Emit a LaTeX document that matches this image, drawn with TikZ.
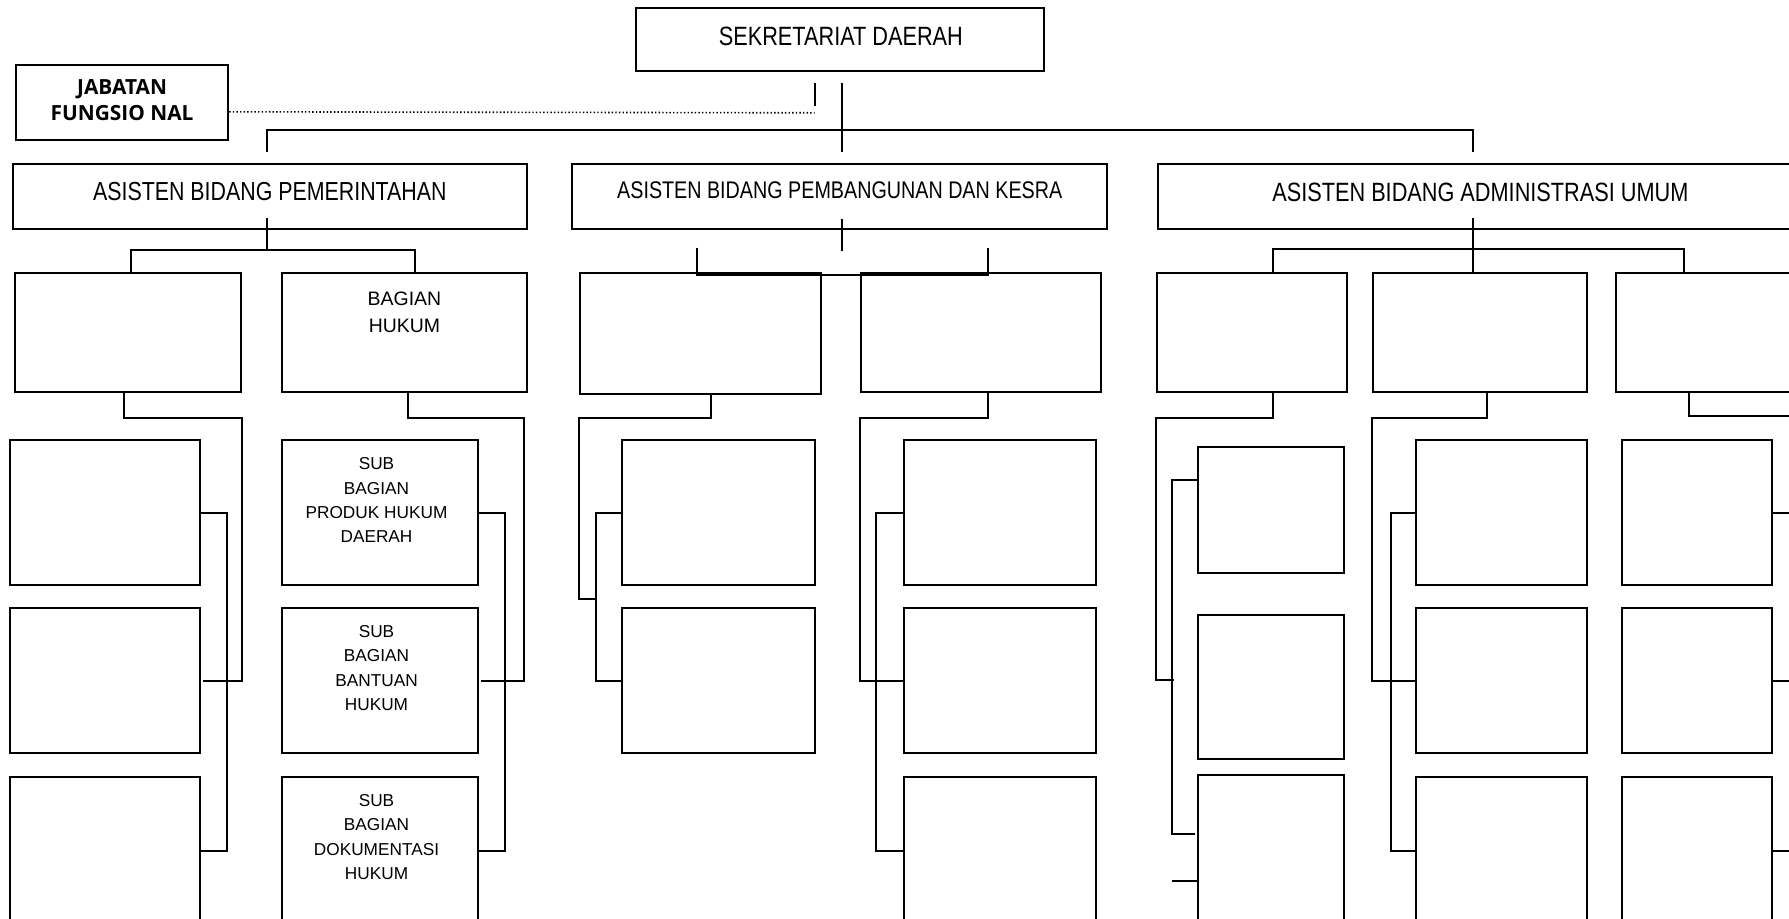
\documentclass[tikz,border=0pt]{standalone}
\usepackage{fontspec}
\setmainfont{Liberation Sans}
\newfontfamily\sempit{Liberation Sans}[FakeStretch=0.82]
\newfontfamily\jabfont{Open Sans}
\usetikzlibrary{fit,calc}

\begin{document}
\begin{tikzpicture}[yscale = -1, x = 0.1mm, y = 0.1mm, line width = 0.5pt,
	kotak/.style = {draw, rectangle, inner sep = 0pt},
	judul/.style = {inner sep = 0pt, anchor = north, font = \sempit\fontsize{6.6}{8}\selectfont},
	isi/.style = {align = center, inner sep = 0pt, anchor = north, font = \fontsize{4.3}{6.1}\selectfont}]
	\useasboundingbox (0, 0) rectangle (1568, 805);
	\clip (0, 0) rectangle (1568, 805);

	% Sekretariat dan jabatan fungsional
	\node (sek) [kotak, fit = {(557, 7) (915, 62)}] {};
	\node (sekT) [judul] at ($(sek.north) + (1, 16.5)$) {SEKRETARIAT DAERAH};
	\node (jab) [kotak, fit = {(14, 57) (200, 123)}] {};
	\node (jabT) [isi, font = \jabfont\bfseries\fontsize{5.2}{6.5}\selectfont] at ($(jab.north) + (0, 12.5)$) {JABATAN\\FUNGSIO NAL};

	% Asisten
	\node (asPem) [kotak, fit = {(11, 144) (462, 201)}] {};
	\node (asPemb) [kotak, fit = {(501, 144) (970, 201)}] {};
	\node (asAdm) [kotak, fit = {(1015, 144) (1580, 201)}] {};
	\node (asPemT) [judul, font = \sempit\fontsize{6.5}{8}\selectfont] at ($(asPem.north) + (0, 16)$) {ASISTEN BIDANG PEMERINTAHAN};
	\node (asPembT) [judul, font = \sempit\fontsize{6}{7}\selectfont] at ($(asPemb.north) + (0.5, 15.5)$) {ASISTEN BIDANG PEMBANGUNAN DAN KESRA};
	\node (asAdmT) [judul] at ($(asAdm.north) + (0, 16)$) {ASISTEN BIDANG ADMINISTRASI UMUM};

	% Bagian
	\node (pem1) [kotak, fit = {(13, 239) (211, 344)}] {};
	\node (hukum) [kotak, fit = {(247, 239) (462, 344)}] {};
	\node (bang1) [kotak, fit = {(508, 239) (720, 345)}] {};
	\node (bang2) [kotak, fit = {(755, 239) (965, 344)}] {};
	\node (adm1) [kotak, fit = {(1014, 239) (1181, 344)}] {};
	\node (adm2) [kotak, fit = {(1203, 239) (1391, 344)}] {};
	\node (adm3) [kotak, fit = {(1416, 239) (1604, 344)}] {};
	\node (hukumT) [isi, font = \fontsize{4.85}{6.8}\selectfont] at ($(hukum.north) + (0, 17)$) {BAGIAN\\HUKUM};

	% Sub bagian
	\foreach \kol/\xa/\xb in {pem1/9/175, hukum/247/419, bang2/792/961, adm2/1241/1391, adm3/1422/1553} {
		\foreach \i/\ya/\yb in {1/386/513, 2/533/660, 3/681/810} {
			\node (\kol-\i) [kotak, fit = {(\xa, \ya) (\xb, \yb)}] {};
		}
	}
	\foreach \i/\ya/\yb in {1/386/513, 2/533/660} {
		\node (bang1-\i) [kotak, fit = {(545, \ya) (714, \yb)}] {};
	}
	\foreach \i/\ya/\yb in {1/392/502, 2/539/665, 3/679/810} {
		\node (adm1-\i) [kotak, fit = {(1050, \ya) (1178, \yb)}] {};
	}
	\node (hukumT1) [isi] at ($(hukum-1.north) + (-3, 15)$) {SUB\\BAGIAN\\PRODUK HUKUM\\DAERAH};
	\node (hukumT2) [isi] at ($(hukum-2.north) + (-3, 15)$) {SUB\\BAGIAN\\BANTUAN\\HUKUM};
	\node (hukumT3) [isi] at ($(hukum-3.north) + (-3, 15)$) {SUB\\BAGIAN\\DOKUMENTASI\\HUKUM};

	% Garis penghubung atas
	\draw ($(sek.south) + (2, 10)$) -- ($(asPemb.north) + (2.5, -10)$);
	\draw ($(sek.south) + (-22, 10)$) -- ++(0, 20);
	\draw [line width = 0.4pt, dash pattern = {on 0.35pt off 0.55pt}] ($(jab.east) + (0, 8)$) -- ($(sek.south) + (-22, 36)$);
	\draw ($(asPem.north) + (-2.5, -10)$) |- ($(sek.south) + (2, 51)$) -| ($(asAdm.north) + (-6.5, -10)$);

	% Garis asisten ke bagian
	\draw ($(asPem.south) + (-2.5, -11)$) -- ++(0, 28);
	\draw ($(pem1.north) + (3, 0)$) |- ($(asPem.south) + (-2.5, 17)$) -| ($(hukum.north) + (9.5, 0)$);
	\draw ($(asPemb.south) + (2.5, -10)$) -- ++(0, 28);
	\draw ($(bang1.north) + (-3, -21)$) |- ($(bang2.north) + (6, 3)$) -- ++(0, -24);
	\draw ($(asAdm.south) + (-6.5, -11)$) -- ++(0, 49);
	\draw ($(adm1.north) + (18.5, 0)$) |- ($(adm3.north) + (-34, -20)$) -- ++(0, 20);

	% Garis bagian ke sub bagian
	\draw ($(pem1.south) + (-3, 0)$) |- ($(pem1.east) + (0, 74.5)$) |- ($(pem1-2.east) + (2, 0)$);
	\draw (pem1-1.east) -| ($(pem1-3.east) + (23, 0)$) -- (pem1-3.east);
	\draw ($(hukum.south) + (3.5, 0)$) |- ($(hukum.east) + (-4, 74.5)$) |- ($(hukum-2.east) + (2, 0)$);
	\draw (hukum-1.east) -| ($(hukum-3.east) + (23, 0)$) -- (hukum-3.east);
	\draw ($(bang1.south) + (9, 0)$) |- ($(bang1.west) + (0, 74)$) |- ($(bang1-1.west) + (-22, 75.5)$);
	\draw (bang1-1.west) -| ($(bang1-2.west) + (-22, 0)$) -- (bang1-2.west);
	\draw ($(bang2.south) + (6, 0)$) |- ($(bang2.west) + (0, 74.5)$) |- (bang2-2.west);
	\draw (bang2-1.west) -| ($(bang2-3.west) + (-23, 0)$) -- (bang2-3.west);
	\draw ($(adm1.south) + (18.5, 0)$) |- ($(adm1.west) + (0, 74.5)$) |- ($(adm1-2.west) + (-20, -6)$);
	\draw ($(adm1-1.west) + (0, -26)$) -| ($(adm1-3.north west) + (-22, 53)$) -- ++(20, 0);
	\draw ($(adm1-3.north west) + (-22, 94)$) -- ($(adm1-3.north west) + (0, 94)$);
	\draw ($(adm2.south) + (6, 0)$) |- ($(adm2.west) + (0, 74.5)$) |- (adm2-2.west);
	\draw (adm2-1.west) -| ($(adm2-3.west) + (-21, 0)$) -- (adm2-3.west);
	\draw ($(adm3.south) + (-30, 0)$) |- ($(adm3.east) + (0, 73.5)$);
	\foreach \i in {1, 2, 3} {
		\draw (adm3-\i.east) -- ++(30, 0);
	}
\end{tikzpicture}
\end{document}
